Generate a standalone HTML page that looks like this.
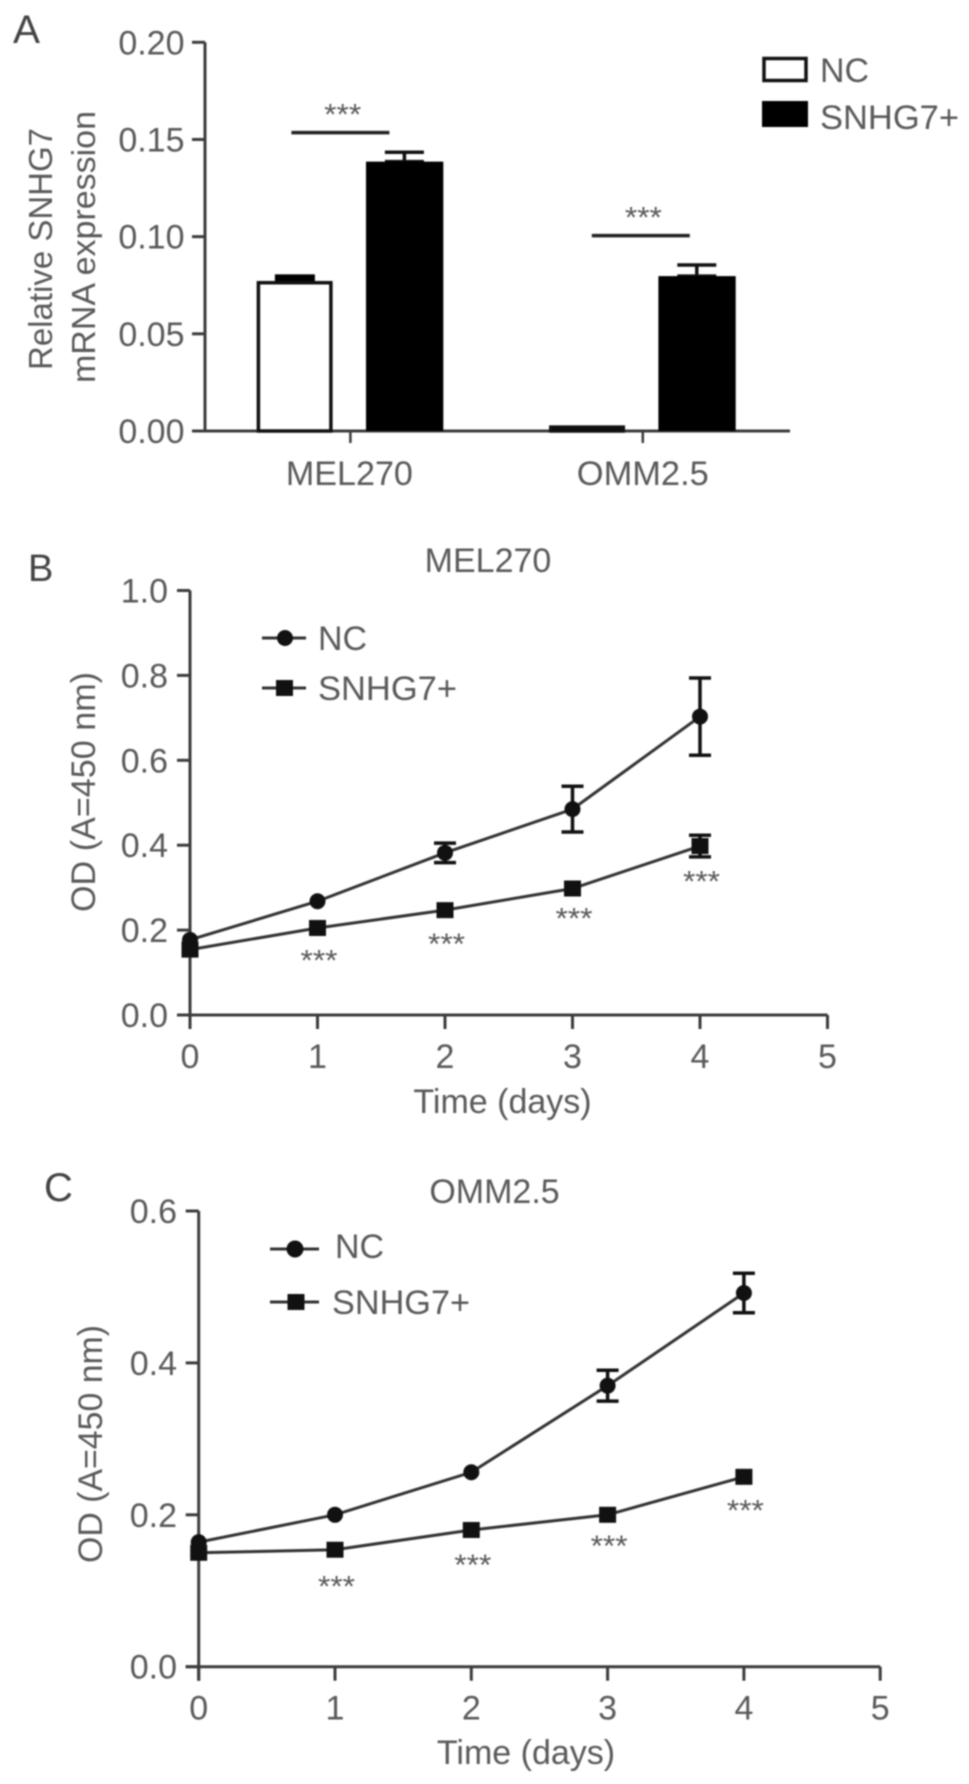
<!DOCTYPE html>
<html lang="en">
<head>
<meta charset="utf-8">
<title>SNHG7 expression and OD charts</title>
<style>
html,body{margin:0;padding:0;background:#fff;width:969px;height:1784px;overflow:hidden}
svg{display:block;filter:blur(0.8px)}
text{font-family:"Liberation Sans",sans-serif;fill:#5a5a5a}
</style>
</head>
<body>
<svg id="fig" xmlns="http://www.w3.org/2000/svg" width="969" height="1784" viewBox="0 0 969 1784">
  <g id="panelA">
    <text x="13" y="43" font-size="40" textLength="27" lengthAdjust="spacingAndGlyphs" style="fill:#444">A</text>
    <text transform="translate(52,370) rotate(-90)" font-size="33" textLength="242" lengthAdjust="spacingAndGlyphs">Relative SNHG7</text>
    <text transform="translate(95,383) rotate(-90)" font-size="33" textLength="272" lengthAdjust="spacingAndGlyphs">mRNA expression</text>
    <rect x="764" y="58.5" width="42" height="22" fill="#fff" stroke="#111" stroke-width="3.5"/>
    <text x="820" y="82" font-size="34">NC</text>
    <rect x="762" y="101" width="46" height="26" fill="#000"/>
    <text x="820" y="129" font-size="34" textLength="139" lengthAdjust="spacingAndGlyphs">SNHG7+</text>
  </g>
  <g id="panelB">
    <text x="28" y="581" font-size="38" style="fill:#444">B</text>
    <text x="488" y="572" font-size="34" text-anchor="middle">MEL270</text>
    <text transform="translate(95,912) rotate(-90)" font-size="34" textLength="240" lengthAdjust="spacingAndGlyphs">OD (A=450 nm)</text>
    <text x="502.5" y="1113" font-size="34" text-anchor="middle">Time (days)</text>
    <line x1="262" x2="306" y1="638" y2="638" stroke="#333" stroke-width="3"/>
    <circle cx="285" cy="638" r="8" fill="#111"/>
    <text x="318" y="650" font-size="34">NC</text>
    <line x1="262" x2="306" y1="688" y2="688" stroke="#333" stroke-width="3"/>
    <rect x="276" y="680" width="17" height="16" fill="#111"/>
    <text x="318" y="700" font-size="34" textLength="139" lengthAdjust="spacingAndGlyphs">SNHG7+</text>
  </g>
  <g id="panelC">
    <text x="44" y="1201" font-size="40" style="fill:#444">C</text>
    <text x="494.5" y="1203" font-size="34" text-anchor="middle">OMM2.5</text>
    <text transform="translate(102,1563) rotate(-90)" font-size="34" textLength="238" lengthAdjust="spacingAndGlyphs">OD (A=450 nm)</text>
    <text x="526" y="1764" font-size="34" text-anchor="middle">Time (days)</text>
    <line x1="270" x2="319" y1="1249" y2="1249" stroke="#333" stroke-width="3"/>
    <circle cx="295" cy="1249" r="8.5" fill="#111"/>
    <text x="335" y="1258" font-size="34">NC</text>
    <line x1="270" x2="319" y1="1302" y2="1302" stroke="#333" stroke-width="3"/>
    <rect x="287.5" y="1294" width="17" height="16" fill="#111"/>
    <text x="332" y="1314" font-size="34" textLength="138" lengthAdjust="spacingAndGlyphs">SNHG7+</text>
  </g>
</svg>
<script>
// Panel A data
const aCategories = ['MEL270', 'OMM2.5'];
const aTicks = ['0.00', '0.05', '0.10', '0.15', '0.20'];
const aNC = [0.0763, 0.002];
const aNCErr = [0.0043, 0];
const aSNHG7 = [0.1386, 0.0797];
const aSNHG7Err = [0.0048, 0.0057];
const aSigLevels = [0.1535, 0.1005];
// Panel B data
const bDays = [0, 1, 2, 3, 4];
const bXTicks = ['0', '1', '2', '3', '4', '5'];
const bYTicks = ['0.0', '0.2', '0.4', '0.6', '0.8', '1.0'];
const bNC = [0.177, 0.268, 0.382, 0.485, 0.703];
const bNCErr = [0.008, 0.006, 0.023, 0.054, 0.091];
const bSNHG7 = [0.154, 0.205, 0.247, 0.298, 0.398];
const bSNHG7Err = [0.006, 0.006, 0.006, 0.006, 0.0255];
const bStarLevels = [null, 0.135, 0.174, 0.2346, 0.321];
// Panel C data
const cDays = [0, 1, 2, 3, 4];
const cXTicks = ['0', '1', '2', '3', '4', '5'];
const cYTicks = ['0.0', '0.2', '0.4', '0.6'];
const cNC = [0.164, 0.2, 0.256, 0.37, 0.492];
const cNCErr = [0.004, 0.003, 0.004, 0.0203, 0.026];
const cSNHG7 = [0.15, 0.154, 0.18, 0.2, 0.25];
const cSNHG7Err = [0.003, 0.003, 0.003, 0.003, 0.003];
const cStarLevels = [null, 0.1095, 0.138, 0.1628, 0.2096];

const NS = 'http://www.w3.org/2000/svg';
const AXIS = '#3c3c3c';
function mk(parent, tag, attrs, txt) {
  const el = document.createElementNS(NS, tag);
  for (const k in attrs) el.setAttribute(k, attrs[k]);
  if (txt !== undefined) el.textContent = txt;
  parent.appendChild(el);
  return el;
}
function stars(parent, cx, cy, name) {
  const el = mk(parent, 'text', {x: cx - 18.5, y: cy + 13, 'font-size': 30, textLength: 37, lengthAdjust: 'spacingAndGlyphs'}, '***');
  
  
}
function errorBar(parent, x, yTop, yBot, cap, name) {
  const g = mk(parent, 'path', {d: `M${x - cap} ${yTop}H${x + cap}M${x} ${yTop}V${yBot}M${x - cap} ${yBot}H${x + cap}`, fill: 'none', stroke: '#111', 'stroke-width': 3.5});
  
  
}

// ---- Panel A ----
(function () {
  const p = document.getElementById('panelA');
  const yA = v => 431 - v * 1943.5;
  const xA = i => 350.4 + i * 292.4;
  const sigOffset = i => (i === 0 ? -10 : -2);
  const starOffset = i => (i === 0 ? -7.7 : 0.6);
  const axisX = 205;
  const yLine = mk(p, 'path', {d: `M${axisX} ${yA(0.2)}V${yA(0)}`, stroke: AXIS, 'stroke-width': 3, fill: 'none'});
  
  
  const xLine = mk(p, 'path', {d: `M192 ${yA(0)}H790`, stroke: AXIS, 'stroke-width': 3, fill: 'none'});
  
  
  aTicks.forEach(t => {
    const y = yA(parseFloat(t));
    const tk = mk(p, 'line', {x1: 192, x2: axisX, y1: y, y2: y, stroke: AXIS, 'stroke-width': 3});
    
    
    const lb = mk(p, 'text', {x: 184.5, y: y + 12, 'font-size': 34, 'text-anchor': 'end'}, t);
    
    
  });
  aCategories.forEach((c, i) => {
    const cx = xA(i);
    const tk = mk(p, 'line', {x1: cx, x2: cx, y1: 431, y2: 443, stroke: AXIS, 'stroke-width': 2.5});
    
    
    const lb = mk(p, 'text', {x: cx - 1 + i, y: 485, 'font-size': 34, 'text-anchor': 'middle', textLength: i ? 132 : 127, lengthAdjust: 'spacingAndGlyphs'}, c);
    
    

    // NC error bar and bar
    if (aNCErr[i] > 0) {
      const e = mk(p, 'rect', {x: cx - 75.5, y: yA(aNC[i] + aNCErr[i]), width: 40, height: yA(aNC[i]) - yA(aNC[i] + aNCErr[i]), fill: '#000'});
      
      
    }
    const b1 = mk(p, 'rect', {x: cx - 92, y: yA(aNC[i]), width: 72.5, height: Math.max(0, yA(0) - yA(aNC[i])), fill: aNC[i] < 0.01 ? '#000' : '#fff', stroke: '#111', 'stroke-width': 3.5});
    
    

    // SNHG7 error bar and bar
    errorBar(p, cx + 54, yA(aSNHG7[i] + aSNHG7Err[i]), yA(aSNHG7[i]), 19.5, 'error-bar-snhg7');
    const b2 = mk(p, 'rect', {x: cx + 15.6, y: yA(aSNHG7[i]), width: 77.3, height: yA(0) - yA(aSNHG7[i]), fill: '#000'});
    
    

    // Significance
    const sy = yA(aSigLevels[i]);
    const sc = cx + sigOffset(i);
    const sl = mk(p, 'line', {x1: sc - 49, x2: sc + 49, y1: sy, y2: sy, stroke: '#222', 'stroke-width': 3.5});
    
    
    stars(p, cx + starOffset(i), sy - 21, 'significance-stars');
  });
})();

// ---- Line panels ----
function linePanel(opts) {
  const p = document.getElementById(opts.id);
  const x = d => opts.x0 + d * opts.xStep;
  const y = v => opts.y0 - v * opts.yScale;
  const xEnd = x(opts.xTicks.length - 1);
  const yTop = y(parseFloat(opts.yTicks[opts.yTicks.length - 1]));
  const ya = mk(p, 'path', {d: `M${x(0)} ${yTop}V${opts.y0 + 14}`, stroke: AXIS, 'stroke-width': 3, fill: 'none'});
  
  
  const xa = mk(p, 'path', {d: `M${x(0) - 13} ${opts.y0}H${xEnd}`, stroke: AXIS, 'stroke-width': 3, fill: 'none'});
  
  
  opts.yTicks.forEach(t => {
    const yy = y(parseFloat(t));
    const tk = mk(p, 'line', {x1: x(0) - 13, x2: x(0), y1: yy, y2: yy, stroke: AXIS, 'stroke-width': 3});
    
    
    const lb = mk(p, 'text', {x: opts.yLabelRight, y: yy + 12, 'font-size': 34, 'text-anchor': 'end'}, t);
    
    
  });
  opts.xTicks.forEach(t => {
    const xx = x(parseFloat(t));
    const tk = mk(p, 'line', {x1: xx, x2: xx, y1: opts.y0, y2: opts.y0 + 14, stroke: AXIS, 'stroke-width': 3});
    
    
    const lb = mk(p, 'text', {x: xx, y: opts.y0 + opts.xLabelDy, 'font-size': 34, 'text-anchor': 'middle'}, t);
    
    
  });
  const pts = arr => arr.map((v, i) => `${x(opts.days[i])},${y(v)}`).join(' ');
  const l1 = mk(p, 'polyline', {points: pts(opts.nc), fill: 'none', stroke: '#333', 'stroke-width': 3});
  
  
  const l2 = mk(p, 'polyline', {points: pts(opts.snhg), fill: 'none', stroke: '#333', 'stroke-width': 3});
  
  
  opts.days.forEach((d, i) => {
    if (opts.ncErr[i] > 0.01) {
      errorBar(p, x(d), y(opts.nc[i] + opts.ncErr[i]), y(opts.nc[i] - opts.ncErr[i]), 11, opts.name + '-nc-error-bar');
    }
    const c = mk(p, 'circle', {cx: x(d), cy: y(opts.nc[i]), r: 8, fill: '#111'});
    
    
  });
  opts.days.forEach((d, i) => {
    if (opts.snhgErr[i] > 0.01) {
      errorBar(p, x(d), y(opts.snhg[i] + opts.snhgErr[i]), y(opts.snhg[i] - opts.snhgErr[i]), 11, opts.name + '-snhg7-error-bar');
    }
    const r = mk(p, 'rect', {x: x(d) - 8.5, y: y(opts.snhg[i]) - 8, width: 17, height: 16, fill: '#111'});
    
    
    if (opts.stars[i] !== null) {
      stars(p, x(d) + 1.5, y(opts.stars[i]), opts.name + '-significance-stars');
    }
  });
}
linePanel({id: 'panelB', name: 'panel-b', x0: 190, xStep: 127.5, y0: 1015, yScale: 424.5, yLabelRight: 168, xLabelDy: 53,
  days: bDays, xTicks: bXTicks, yTicks: bYTicks, nc: bNC, ncErr: bNCErr, snhg: bSNHG7, snhgErr: bSNHG7Err, stars: bStarLevels});
linePanel({id: 'panelC', name: 'panel-c', x0: 198.7, xStep: 136.3, y0: 1666.7, yScale: 759.5, yLabelRight: 177, xLabelDy: 53,
  days: cDays, xTicks: cXTicks, yTicks: cYTicks, nc: cNC, ncErr: cNCErr, snhg: cSNHG7, snhgErr: cSNHG7Err, stars: cStarLevels});
</script>
</body>
</html>
